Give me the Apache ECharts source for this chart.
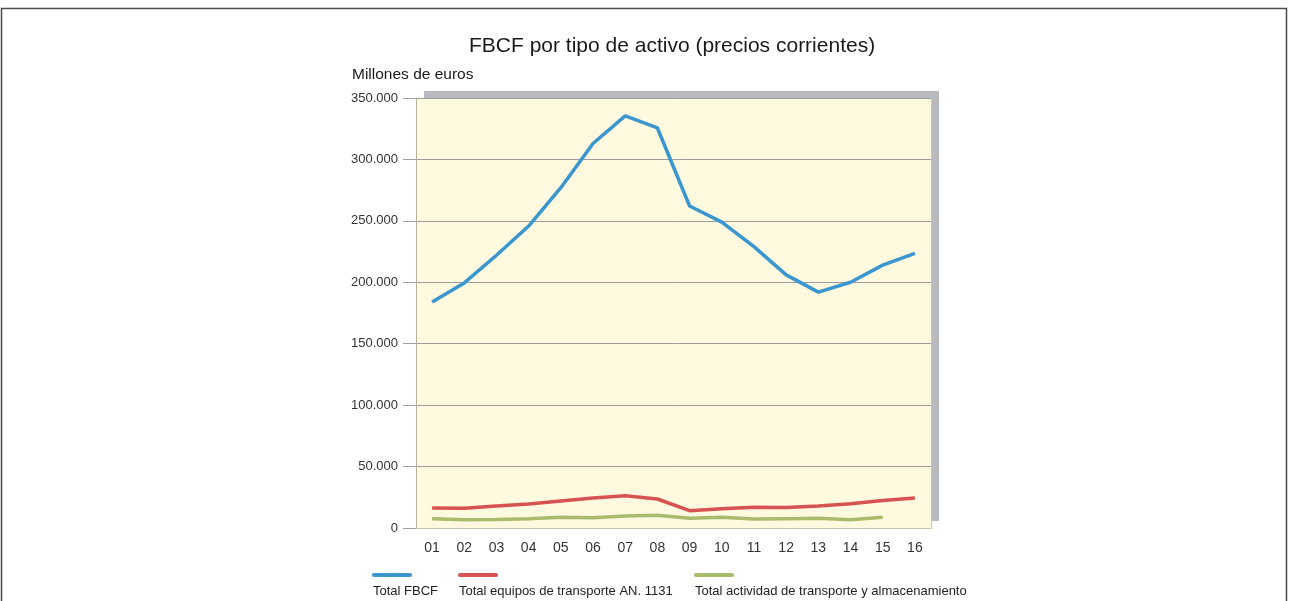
<!DOCTYPE html>
<html>
<head>
<meta charset="utf-8">
<script src="https://cdn.jsdelivr.net/npm/echarts@6/dist/echarts.min.js"></script>
<style>
  html, body { margin: 0; padding: 0; background: #fff; }
  #chart { width: 1289px; height: 601px; }
</style>
</head>
<body>
<div id="chart"></div>
<script>
  // años 2001-2016
  var years = ['01','02','03','04','05','06','07','08','09','10','11','12','13','14','15','16'];
  var seriesNames = ['Total FBCF', 'Total equipos de transporte AN. 1131', 'Total actividad de transporte y almacenamiento'];
  var totalFbcf = [184000, 199500, 222000, 245800, 277000, 313000, 335500, 325600, 262100, 249000, 229000, 206000, 192000, 200000, 214000, 223500];
  var equiposTransporte = [16300, 16000, 17900, 19500, 22000, 24400, 26200, 23600, 14100, 15700, 16800, 16600, 17900, 19800, 22400, 24400];
  var actividadTransporte = [7600, 6800, 7000, 7600, 8700, 8400, 9800, 10300, 7900, 8700, 7300, 7600, 7900, 6800, 8700, null];
  var yTicks = { min: 0, max: 350000, step: 50000 };

  var colors = ['#3a96cf', '#d75352', '#a9bc6b'];
  var markKeys = ['b', 'r', 'g'];
  var font = '"Liberation Sans", Arial, sans-serif';
  var borderCol = '#c9c5ad';

  function fmt(v) {
    return String(v).replace(/\B(?=(\d{3})+(?!\d))/g, '.');
  }

  var rich = {};
  markKeys.forEach(function (k, i) {
    rich[k] = { width: 40, height: 4, backgroundColor: colors[i], borderRadius: 2, lineHeight: 14 };
  });
  rich.tx = { fontSize: 13, color: '#222', fontFamily: font, lineHeight: 18, padding: [0, 0, 0, 1] };

  function legendFor(i, left) {
    return {
      data: [seriesNames[i]],
      left: left,
      top: 564,
      icon: 'rect',
      itemWidth: 0,
      itemHeight: 0,
      itemGap: 0,
      formatter: function (name) {
        return '{' + markKeys[i] + '|}\n{tx|' + name + '}';
      },
      textStyle: { rich: rich }
    };
  }

  var chart = echarts.init(document.getElementById('chart'));
  chart.setOption({
    animation: false,
    color: colors,
    textStyle: { fontFamily: font },
    graphic: [{
      type: 'rect',
      shape: { x: 1.5, y: 8.5, width: 1285, height: 620 },
      style: { fill: 'none', stroke: '#4a4a4a', lineWidth: 1.5 },
      silent: true
    }],
    title: [{
      text: 'FBCF por tipo de activo (precios corrientes)',
      left: 464,
      top: 31,
      textStyle: { fontSize: 21, fontWeight: 'normal', color: '#1a1a1a', fontFamily: font }
    }, {
      text: 'Millones de euros',
      left: 347,
      top: 62,
      textStyle: { fontSize: 15.5, fontWeight: 'normal', color: '#1a1a1a', fontFamily: font }
    }],
    legend: [legendFor(0, 362), legendFor(1, 448), legendFor(2, 684)],
    grid: {
      left: 416,
      right: 358,
      top: 98,
      bottom: 73,
      show: true,
      backgroundColor: '#fffadf',
      borderWidth: 0,
      shadowColor: '#b9babe',
      shadowBlur: 0,
      shadowOffsetX: 8,
      shadowOffsetY: -7
    },
    xAxis: [{
      type: 'category',
      data: years,
      boundaryGap: true,
      axisLine: { lineStyle: { color: borderCol } },
      axisTick: { show: false },
      axisLabel: { fontSize: 14, color: '#333', margin: 13, fontFamily: font }
    }, {
      type: 'category',
      data: years,
      position: 'top',
      axisLine: { show: true, lineStyle: { color: borderCol } },
      axisTick: { show: false },
      axisLabel: { show: false }
    }],
    yAxis: [{
      type: 'value',
      min: yTicks.min,
      max: yTicks.max,
      interval: yTicks.step,
      axisLine: { show: true, lineStyle: { color: '#b5b2a0' } },
      axisTick: { show: true, length: 13, lineStyle: { color: '#a0a0a0' } },
      axisLabel: { fontSize: 13, color: '#333', margin: 18, fontFamily: font, formatter: fmt },
      splitLine: { lineStyle: { color: '#9c9c9c', width: 1 } }
    }, {
      type: 'value',
      min: yTicks.min,
      max: yTicks.max,
      interval: yTicks.step,
      position: 'right',
      axisLine: { show: true, lineStyle: { color: borderCol } },
      axisTick: { show: false },
      axisLabel: { show: false },
      splitLine: { show: false }
    }],
    series: [{
      name: seriesNames[0],
      type: 'line',
      data: totalFbcf,
      symbol: 'none',
      lineStyle: { width: 3.5, color: colors[0] }
    }, {
      name: seriesNames[1],
      type: 'line',
      data: equiposTransporte,
      symbol: 'none',
      lineStyle: { width: 3.5, color: colors[1] }
    }, {
      name: seriesNames[2],
      type: 'line',
      data: actividadTransporte,
      symbol: 'none',
      lineStyle: { width: 3.5, color: colors[2] }
    }]
  });
</script>
</body>
</html>
